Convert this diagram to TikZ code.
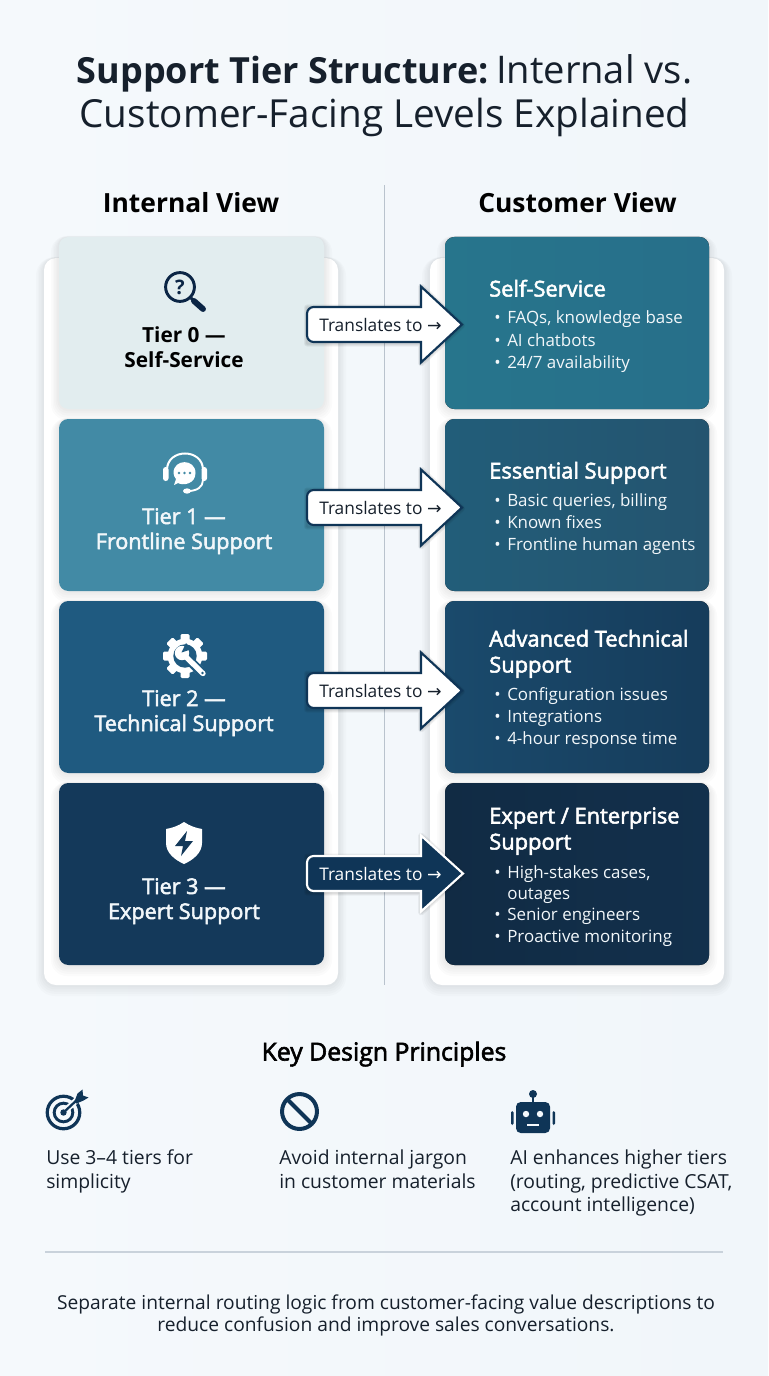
\documentclass[tikz,border=0pt]{standalone}
\usepackage{fontspec}
\setmainfont{Open Sans}
\newfontfamily\medf[FakeBold=2.4]{Open Sans}
\newfontfamily\arrf{DejaVu Sans}
\usetikzlibrary{calc}
\definecolor{ink}{HTML}{0B2545}
\definecolor{navy}{HTML}{0F3557}
\definecolor{txt}{HTML}{16202C}
\definecolor{ruleg}{HTML}{B9C3CD}
\definecolor{rulel}{HTML}{C9D2DB}
\definecolor{lineW}{HTML}{F2F7FA}
\definecolor{bgA}{HTML}{F5F9FC}
\definecolor{bgB}{HTML}{F1F6FA}
\definecolor{cardA}{HTML}{E2EDEF}
\definecolor{cardB}{HTML}{428AA5}
\definecolor{cardC}{HTML}{1F5A80}
\definecolor{cardD}{HTML}{14395A}
\definecolor{custAl}{HTML}{27758C}
\definecolor{custAr}{HTML}{276F8A}
\definecolor{custBl}{HTML}{225D79}
\definecolor{custBr}{HTML}{24546F}
\definecolor{custCl}{HTML}{1A4A6C}
\definecolor{custCr}{HTML}{163C5B}
\definecolor{custDl}{HTML}{112B44}
\definecolor{custDr}{HTML}{12304C}
\newcommand{\softshadow}[5]{%
  \foreach \g in {1,2,3,4,5}{
    \fill[black,opacity=0.014,rounded corners=#5+\g*1pt]
      ($(#1,#2)+(-\g*1.6,-\g*0.2)$) rectangle ($(#3,#4)+(\g*1.6,\g*2.2)$);
  }}
\newcommand{\xarrow}[6]{% cy, fill, stroke, tip, textcolor, id
  \begin{scope}[shift={(0,#1)}]
    \foreach \g in {1,2,3}{
      \draw[black,opacity=0.05,line width=\g*1.5pt,line join=round]
       (421,-17) -- (421,-38) -- (#4,1) -- (421,39) -- (421,19) -- (307,19) -- (307,-17) -- cycle;
    }
    \draw[fill=#2,draw=#3,line width=1.6pt,line join=miter]
      (421,-17.5) -- (421,-38) -- (#4,0) -- (421,38) -- (421,17.5)
      [rounded corners=5pt] -- (307,17.5) -- (307,-17.5) [sharp corners] -- cycle;
    \node[anchor=base west,inner sep=0pt,text=#5,font=\fontsize{13}{15}\selectfont] (arrowlabel#6) at (319,6.5) {Translates to {\arrf→}};
  \end{scope}}
\tikzset{
  titlereg/.style={anchor=base,inner sep=0pt,text=txt,font=\fontsize{29}{32}\selectfont},
  viewhead/.style={anchor=base,inner sep=0pt,text=black,font=\fontsize{19.8}{24}\selectfont\bfseries},
  tierlabel/.style={anchor=base,inner sep=0pt,font=\fontsize{16.2}{18}\medf},
  tierzero/.style={anchor=base,inner sep=0pt,text=black,font=\fontsize{15.6}{18}\selectfont\bfseries},
  custhead/.style={anchor=base west,inner sep=0pt,text=white,font=\fontsize{16.4}{18}\medf},
  custitem/.style={anchor=base west,inner sep=0pt,text=lineW,font=\fontsize{12.7}{15}\selectfont},
  princip/.style={anchor=base west,inner sep=0pt,text=txt,font=\fontsize{14.5}{17}\selectfont},
  foot/.style={anchor=base,inner sep=0pt,text=txt,font=\fontsize{14.4}{17}\selectfont},
}
\begin{document}
\begin{tikzpicture}[x=0.75pt,y=-0.75pt]
\useasboundingbox (0,0) rectangle (768,1376);
\fill[left color=bgA,right color=bgB] (0,0) rectangle (768,1376);

% title
\node[titlereg] (title1) at (384.5,84) {{\fontsize{27}{30}\selectfont\bfseries Support Tier Structure:}\hspace{-4.5pt} {\fontsize{28.6}{30}\selectfont Internal vs.}};
\node[titlereg] (title2) at (384.5,128) {Customer-Facing Levels Explained};

% headers and divider
\node[viewhead] (headL) at (191,212.5) {Internal View};
\node[viewhead] (headR) at (577.5,212.5) {Customer View};

% panels
\softshadow{44}{258}{338}{985}{9pt}
\softshadow{430}{258}{724}{985}{9pt}
\fill[white,rounded corners=9pt] (44,258) rectangle (338,985);
\fill[white,rounded corners=9pt] (430,258) rectangle (724,985);
\coordinate (divtop) at (384.5,185);
\coordinate (divbot) at (384.5,985);
\draw[ruleg,line width=0.8pt] (divtop) -- (divbot);

% cards left
\foreach \a/\b/\c in {237/409/cardA,419/591/cardB,601/773/cardC,783/965/cardD}{
  \softshadow{59}{\a}{324}{\b}{7pt}
  \fill[\c,rounded corners=7pt] (59,\a) rectangle (324,\b);
}
% cards right
\foreach \a/\b/\c/\d in {237/409/custAl/custAr,419/591/custBl/custBr,601/773/custCl/custCr,783/965/custDl/custDr}{
  \softshadow{445}{\a}{709}{\b}{7pt}
  \fill[left color=\c,right color=\d,rounded corners=7pt] (445,\a) rectangle (709,\b);
}

% tier labels
\node[tierzero] (t0a) at (184,342) {Tier 0 —};
\node[tierzero] (t0b) at (184,367) {Self-Service};
\node[tierlabel,text=lineW] (t1a) at (184,524) {Tier 1 —};
\node[tierlabel,text=lineW] (t1b) at (184,549) {Frontline Support};
\node[tierlabel,text=lineW] (t2a) at (184,706) {Tier 2 —};
\node[tierlabel,text=lineW] (t2b) at (184,731) {Technical Support};
\node[tierlabel,text=lineW] (t3a) at (184,894) {Tier 3 —};
\node[tierlabel,text=lineW] (t3b) at (184,919) {Expert Support};

% icon: magnifier with question mark
\draw[ink,line width=2.2pt] (180,287) circle (10.8pt);
\draw[ink,line width=2.2pt] (191,298) -- (194,301);
\draw[ink,line width=4.4pt,line cap=round] (194,301) -- (203,309);
\node[inner sep=0pt,text=ink,font=\fontsize{15}{15}\bfseries] (qmark) at (180,287) {?};

% icon: headset
\begin{scope}[shift={(185,473)}]
  \draw[white,line width=1.5pt] (-18,-3) .. controls (-18,-25) and (18,-25) .. (18,-3);
  \fill[white,rounded corners=2pt] (-22,-6) rectangle (-16.5,8);
  \fill[white,rounded corners=2pt] (16.5,-6) rectangle (22,8);
  \draw[white,line width=1.4pt] (18,7) .. controls (18,14) and (12,18) .. (3,18);
  \fill[white] (2,18) ellipse (3pt and 2pt);
  \fill[white] (-11.5,0) .. controls (-11.5,-14.5) and (10.5,-14.5) .. (10.5,0) .. controls (10.5,11) and (-2,13) .. (-7,10) -- (-11,12) -- (-9,6) .. controls (-10.5,4) and (-11.5,2) .. (-11.5,0) -- cycle;
  \foreach \q in {-6,-0.5,5}{\fill[cardB] (\q,0) circle (1.1pt);}
\end{scope}

% icon: gear and wrench
\begin{scope}[shift={(185,656)}]
  \fill[white] (0,0) circle (13pt);
  \foreach \q in {0,45,...,315}{\fill[white,rotate=\q,rounded corners=1pt] (-4.5,-22) rectangle (4.5,-12);}
  \fill[cardC] (0,0) circle (8.8pt);
  \draw[cardC,line width=7pt] (6,6) -- (19,19);
  \fill[white] (-3,-3) circle (5.4pt);
  \draw[white,line width=4pt,line cap=round] (-2,-2) -- (18,17.5);
  \fill[cardC] (-3.5,-3.5) -- (1,-13) -- (7,-7) -- cycle;
  \fill[cardC] (17.5,17) circle (1pt);
\end{scope}

% icon: shield
\begin{scope}[shift={(184,843)}]
  \fill[white] (0,-21) .. controls (6,-17) and (12,-15) .. (18,-14) -- (18,0) .. controls (18,10) and (9,17) .. (0,21) .. controls (-9,17) and (-18,10) .. (-18,0) -- (-18,-14) .. controls (-12,-15) and (-6,-17) .. (0,-21) -- cycle;
  \fill[cardD] (3,-12) -- (-9,3) -- (-1,3) -- (-3,13) -- (9,-2) -- (1,-2) -- cycle;
\end{scope}

% right card text
\node[custhead] (c0) at (489,296.5) {Self-Service};
\foreach \y/\s in {324/{FAQs, knowledge base},346/{AI chatbots},368/{24/7 availability}}{
  \node[custitem] (ca\y) at (507,\y) {\s};
  \node[custitem] (cab\y) at (494,\y) {•};
}
\node[custhead] (c1) at (489,478.5) {Essential Support};
\foreach \y/\s in {506/{Basic queries, billing},528/{Known fixes},550/{Frontline human agents}}{
  \node[custitem] (cb\y) at (507,\y) {\s};
  \node[custitem] (cbb\y) at (494,\y) {•};
}
\node[custhead] (c2a) at (489,646.5) {Advanced Technical};
\node[custhead] (c2b) at (489,672.5) {Support};
\foreach \y/\s in {700/{Configuration issues},722/{Integrations},744/{4-hour response time}}{
  \node[custitem] (cc\y) at (507,\y) {\s};
  \node[custitem] (ccb\y) at (494,\y) {•};
}
\node[custhead] (c3a) at (489,823.5) {Expert / Enterprise};
\node[custhead] (c3b) at (489,849.5) {Support};
\foreach \y/\s in {878/{High-stakes cases,},920/{Senior engineers},942/{Proactive monitoring}}{
  \node[custitem] (cd\y) at (507,\y) {\s};
  \node[custitem] (cdb\y) at (494,\y) {•};
}
\node[custitem] (cd899) at (507,899) {outages};

% arrows
\xarrow{324.5}{white}{navy}{462}{txt}{0}
\xarrow{507.5}{white}{navy}{462}{txt}{1}
\xarrow{690.5}{white}{navy}{462}{txt}{2}
\xarrow{873.5}{navy}{white}{463}{white}{3}

% principles
\node[anchor=base,inner sep=0pt,text=black,font=\fontsize{18.6}{20}\medf] (kdp) at (384,1060.5) {Key Design Principles};

% target icon
\begin{scope}[shift={(63.5,1112.5)}]
  \draw[navy,line width=2.4pt] (0,0) circle (12.2pt);
  \draw[navy,line width=2.2pt] (0,0) circle (7pt);
  \fill[navy] (0,0) circle (2.4pt);
  \draw[bgA,line width=4.5pt] (3,-3) -- (17,-16);
  \draw[navy,line width=1.7pt] (0,0) -- (15,-14);
  \fill[navy] (11,-11) -- (14,-19) -- (19,-23) -- (19.5,-17) -- (25,-15) -- (20,-12) -- (13,-9) -- cycle;
\end{scope}

% prohibition icon
\draw[navy,line width=3pt] (299.5,1111.5) circle (13.1pt);
\draw[navy,line width=3pt] (287,1099) -- (312,1124);

% robot icon
\begin{scope}[shift={(533,1111)}]
  \fill[navy] (0,-17) circle (3pt);
  \draw[navy,line width=1.4pt] (0,-17) -- (0,-9);
  \fill[navy,rounded corners=3.5pt] (-17,-9) rectangle (17,22);
  \fill[navy,rounded corners=1pt] (-22,0) rectangle (-19.5,14);
  \fill[navy,rounded corners=1pt] (19.5,0) rectangle (22,14);
  \fill[bgA] (-7,3) circle (2.4pt);
  \fill[bgA] (7,3) circle (2.4pt);
  \fill[bgA] (-6,13) rectangle (6,15);
\end{scope}

\node[princip] (p1a) at (46,1164) {Use 3–4 tiers for};
\node[princip] (p1b) at (46,1188) {simplicity};
\node[princip] (p2a) at (279,1164) {Avoid internal jargon};
\node[princip] (p2b) at (279,1188) {in customer materials};
\node[princip] (p3a) at (510,1164) {AI enhances higher tiers};
\node[princip] (p3b) at (510,1188) {(routing, predictive CSAT,};
\node[princip] (p3c) at (510,1211) {account intelligence)};

\coordinate (ruleL) at (45,1252);
\coordinate (ruleR) at (723,1252);
\draw[rulel,line width=0.9pt] (ruleL) -- (ruleR);

\node[foot] (f1) at (386,1309.5) {Separate internal routing logic from customer-facing value descriptions to};
\node[foot] (f2) at (386,1331.5) {reduce confusion and improve sales conversations.};
\end{tikzpicture}
\end{document}
